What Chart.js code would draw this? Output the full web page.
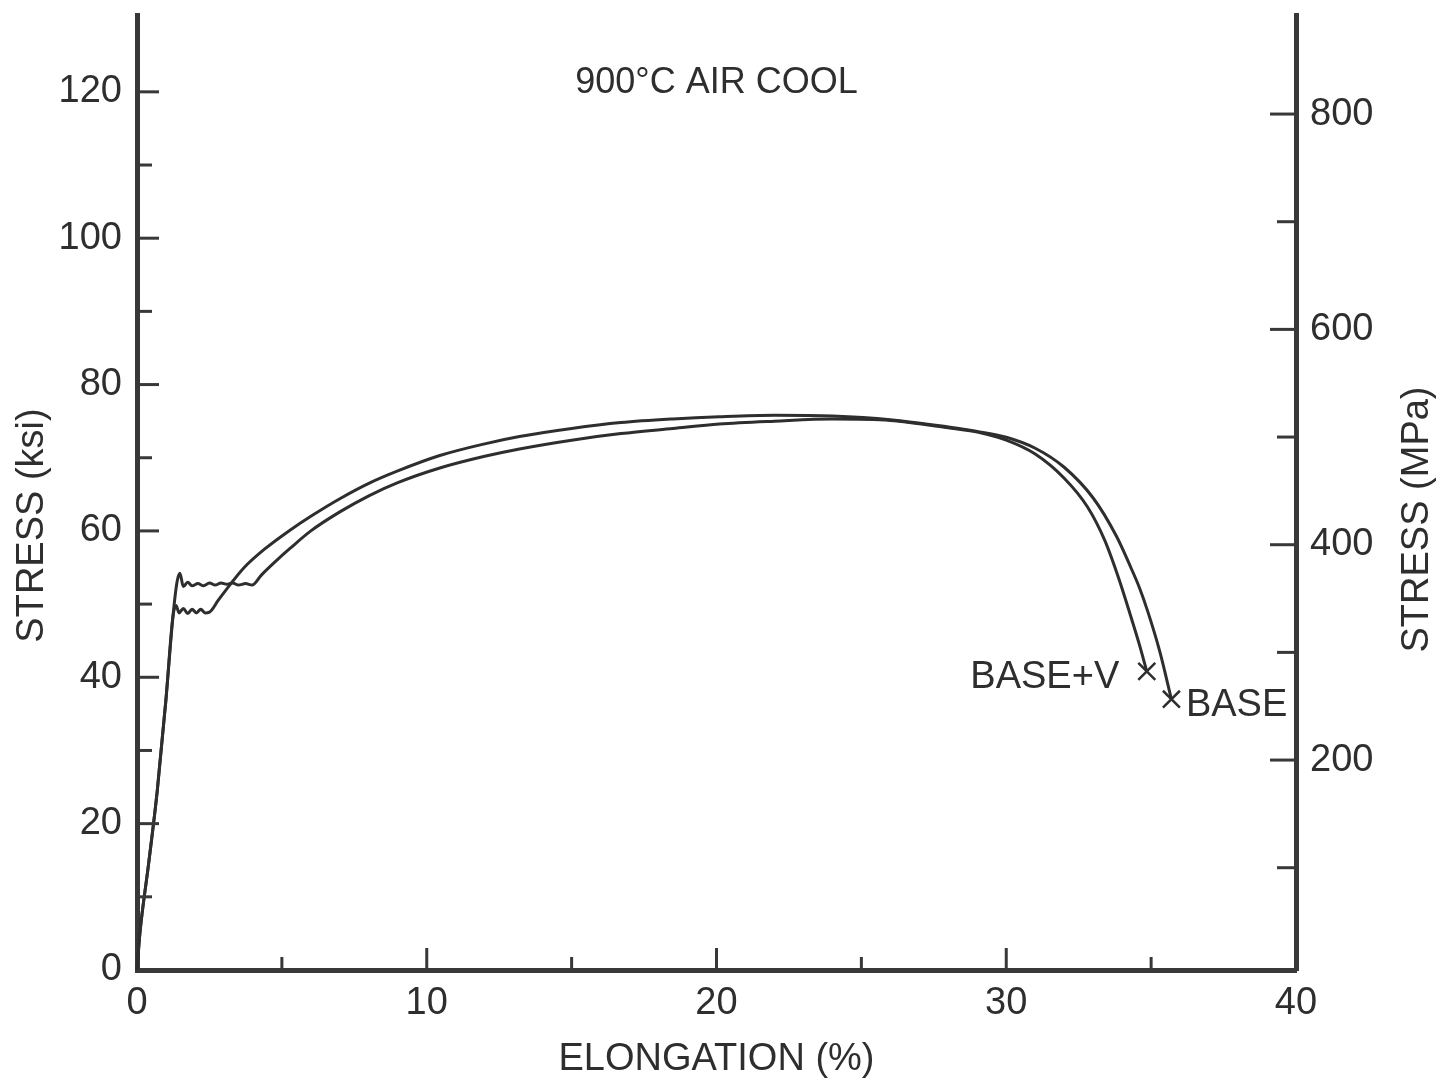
<!DOCTYPE html>
<html>
<head>
<meta charset="utf-8">
<script src="https://cdn.jsdelivr.net/npm/chart.js@4.4.1/dist/chart.umd.min.js"></script>
<style>
  html, body { margin: 0; padding: 0; background: #ffffff; }
  #wrap { width: 1443px; height: 1083px; }
</style>
</head>
<body>
<div id="wrap"><canvas id="c" width="1443" height="1083"></canvas></div>
<script>
// ---- data ----
const strainBase = [0, 0.1, 0.4, 0.7, 1.0, 1.24, 1.35, 1.45, 1.6, 1.75, 1.9, 2.05, 2.2, 2.35, 2.5, 2.8, 3.2, 3.7, 4.4, 5.28, 6.0, 7.0, 8.0, 9.0, 10.45, 12, 13.2, 15, 16.7, 18.5, 20.1, 22, 24, 26, 28, 29, 30, 31, 32, 33, 33.8, 34.3, 34.6, 34.9, 35.3, 35.7];
const stressBase = [0, 5, 14.5, 24.5, 37, 48.3, 49.8, 48.8, 49.4, 48.7, 49.3, 48.8, 49.3, 48.8, 48.9, 50.5, 52.6, 55.0, 57.5, 60.1, 62.0, 64.4, 66.5, 68.2, 70.3, 71.9, 72.9, 74.0, 74.8, 75.3, 75.6, 75.8, 75.7, 75.2, 74.2, 73.6, 72.8, 71.3, 68.7, 64.5, 59.3, 55.0, 52.2, 48.8, 43.5, 37.0];

const strainBaseV = [0, 0.1, 0.4, 0.7, 1.0, 1.24, 1.38, 1.48, 1.6, 1.75, 1.9, 2.1, 2.3, 2.5, 2.7, 2.9, 3.1, 3.3, 3.5, 3.75, 3.97, 4.3, 4.8, 5.28, 6.0, 7.0, 8.0, 9.0, 10.45, 12, 13.2, 15, 16.7, 18.5, 20.1, 22, 24, 26, 28, 29, 30, 31, 32, 32.8, 33.4, 33.9, 34.3, 34.6, 34.85];
const stressBaseV = [0, 5, 14.5, 24.5, 37, 48.3, 53.0, 54.2, 52.4, 53.0, 52.5, 52.8, 52.5, 52.9, 52.6, 52.9, 52.7, 52.9, 52.6, 52.8, 52.6, 54.0, 55.9, 57.6, 60.0, 62.6, 64.8, 66.6, 68.6, 70.2, 71.2, 72.4, 73.3, 74.0, 74.6, 75.0, 75.3, 75.1, 74.1, 73.5, 72.4, 70.5, 67.2, 63.3, 58.7, 53.3, 48.3, 44.4, 40.8];

const seriesNames = ['BASE', 'BASE+V'];

// tick labels / tick marks
const xTickLabels = [0, 10, 20, 30, 40];
const xMajorTicks = [10, 20, 30];
const xMinorTicks = [5, 15, 25, 35];
const ksiTickLabels = [0, 20, 40, 60, 80, 100, 120];
const ksiMajorTicks = [20, 40, 60, 80, 100, 120];
const ksiMinorTicks = [10, 30, 50, 70, 90, 110];
const mpaTickLabels = [200, 400, 600, 800];
const mpaMinorTicks = [100, 300, 500, 700];

const chartTitle = '900\u00B0C AIR COOL';
const xTitle = 'ELONGATION (%)';
const yTitle = 'STRESS (ksi)';
const y2Title = 'STRESS (MPa)';

// ---- styling ----
const INK = '#2e2e2e';
const AXIS = '#383838';
const FAMILY = "'Liberation Sans', Arial, sans-serif";
const FONT = { family: FAMILY, size: 38, lineHeight: 1 };

function pts(xs, ys) { return xs.map((x, i) => ({ x: x, y: ys[i] })); }
function endMarker(arr, r) { return arr.map((_, i) => i === arr.length - 1 ? r : 0); }
function noPadY(s) { s.paddingTop = 0; s.paddingBottom = 0; }

const decor = {
  id: 'decor',
  afterDraw(chart) {
    const ctx = chart.ctx;
    const a = chart.chartArea;
    const sx = chart.scales.x, sy = chart.scales.y, sy2 = chart.scales.y2;
    ctx.save();
    ctx.strokeStyle = AXIS;
    ctx.lineWidth = 3;
    ctx.lineCap = 'butt';
    function seg(x1, y1, x2, y2) { ctx.beginPath(); ctx.moveTo(x1, y1); ctx.lineTo(x2, y2); ctx.stroke(); }
    xMajorTicks.forEach(v => { const p = sx.getPixelForValue(v); seg(p, a.bottom, p, a.bottom - 22); });
    xMinorTicks.forEach(v => { const p = sx.getPixelForValue(v); seg(p, a.bottom, p, a.bottom - 13); });
    ksiMajorTicks.forEach(v => { const p = sy.getPixelForValue(v); seg(a.left, p, a.left + 22, p); });
    ksiMinorTicks.forEach(v => { const p = sy.getPixelForValue(v); seg(a.left, p, a.left + 15, p); });
    mpaTickLabels.forEach(v => { const p = sy2.getPixelForValue(v); seg(a.right, p, a.right - 26, p); });
    mpaMinorTicks.forEach(v => { const p = sy2.getPixelForValue(v); seg(a.right, p, a.right - 19, p); });

    ctx.fillStyle = INK;
    ctx.textBaseline = 'middle';
    // chart title inside the plot
    ctx.font = "36px " + FAMILY;
    ctx.textAlign = 'center';
    ctx.fillText(chartTitle, sx.getPixelForValue(20), sy.getPixelForValue(121.2));
    // curve labels
    ctx.font = "38px " + FAMILY;
    ctx.textAlign = 'right';
    ctx.fillText(seriesNames[1], sx.getPixelForValue(33.9), sy.getPixelForValue(40.0));
    ctx.textAlign = 'left';
    ctx.fillText(seriesNames[0], sx.getPixelForValue(36.2), sy.getPixelForValue(36.1));

    // vertical axis titles (both read bottom-to-top)
    ctx.textAlign = 'center';
    ctx.save();
    ctx.translate(sy.left + 33, (a.top + a.bottom) / 2 + 33);
    ctx.rotate(-Math.PI / 2);
    ctx.fillText(yTitle, 0, 0);
    ctx.restore();
    ctx.save();
    ctx.translate(sy2.right - 25, (a.top + a.bottom) / 2 + 27);
    ctx.rotate(-Math.PI / 2);
    ctx.fillText(y2Title, 0, 0);
    ctx.restore();
    ctx.restore();
  }
};

const lineStyle = {
  showLine: true,
  borderColor: INK,
  backgroundColor: INK,
  borderWidth: 3,
  fill: false,
  cubicInterpolationMode: 'monotone',
  pointStyle: 'crossRot',
  pointBorderWidth: 2.5,
  pointBorderColor: INK,
  pointHoverRadius: 0,
  clip: false
};

new Chart(document.getElementById('c'), {
  type: 'scatter',
  data: {
    datasets: [
      Object.assign({ label: seriesNames[0], data: pts(strainBase, stressBase), pointRadius: endMarker(strainBase, 12), yAxisID: 'y' }, lineStyle),
      Object.assign({ label: seriesNames[1], data: pts(strainBaseV, stressBaseV), pointRadius: endMarker(strainBaseV, 12), yAxisID: 'y' }, lineStyle)
    ]
  },
  options: {
    responsive: false,
    animation: false,
    devicePixelRatio: 1,
    layout: { padding: { top: 15, left: 0, right: 0, bottom: 0 } },
    plugins: { legend: { display: false }, title: { display: false }, tooltip: { enabled: false } },
    scales: {
      x: {
        type: 'linear', position: 'bottom', min: 0, max: 40,
        afterBuildTicks: s => { s.ticks = xTickLabels.map(v => ({ value: v })); },
        afterFit: s => { s.height = 113; s.paddingLeft = 0; s.paddingRight = 0; },
        grid: { display: false, drawTicks: false },
        border: { display: true, width: 5, color: AXIS },
        ticks: { font: FONT, color: INK, padding: 15, maxRotation: 0, autoSkip: false },
        title: { display: true, text: xTitle, font: FONT, color: INK, padding: { top: 0, bottom: 4 } }
      },
      y: {
        type: 'linear', position: 'left', min: 0, max: 130.5,
        afterBuildTicks: s => { s.ticks = ksiTickLabels.map(v => ({ value: v })); },
        afterFit: s => { s.width = 137; noPadY(s); },
        grid: { display: false, drawTicks: false },
        border: { display: true, width: 5, color: AXIS },
        ticks: { font: FONT, color: INK, padding: 15, autoSkip: false }
      },
      y2: {
        type: 'linear', position: 'right', min: 5, max: 892,
        afterBuildTicks: s => { s.ticks = mpaTickLabels.map(v => ({ value: v })); },
        afterFit: s => { s.width = 147; noPadY(s); },
        grid: { display: false, drawTicks: false },
        border: { display: true, width: 5, color: AXIS },
        ticks: { font: FONT, color: INK, padding: 14, autoSkip: false }
      }
    }
  },
  plugins: [decor]
});
</script>
</body>
</html>
